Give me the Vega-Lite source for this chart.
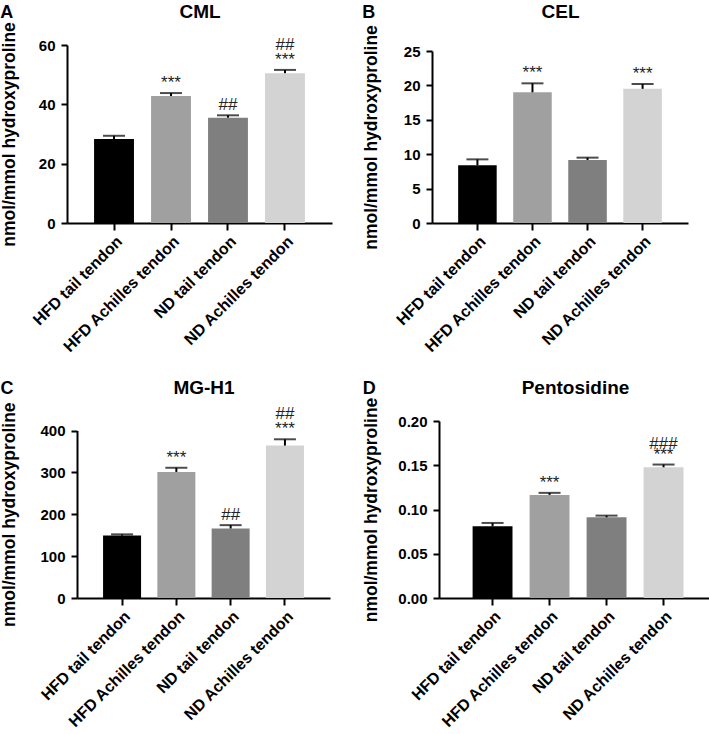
{
  "$schema": "https://vega.github.io/schema/vega-lite/v6.json",
  "padding": {"left": 0, "top": 2, "right": 0, "bottom": 0},
  "datasets": {
    "cml": [
      {"group": "HFD tail tendon", "mean": 28.3, "hi": 29.4, "ann1": "", "ann2": ""},
      {"group": "HFD Achilles tendon", "mean": 42.8, "hi": 43.8, "ann1": "***", "ann2": ""},
      {"group": "ND tail tendon", "mean": 35.5, "hi": 36.3, "ann1": "##", "ann2": ""},
      {"group": "ND Achilles tendon", "mean": 50.5, "hi": 51.6, "ann1": "***", "ann2": "##"}
    ],
    "cel": [
      {"group": "HFD tail tendon", "mean": 8.4, "hi": 9.25, "ann1": "", "ann2": ""},
      {"group": "HFD Achilles tendon", "mean": 19.0, "hi": 20.3, "ann1": "***", "ann2": ""},
      {"group": "ND tail tendon", "mean": 9.15, "hi": 9.5, "ann1": "", "ann2": ""},
      {"group": "ND Achilles tendon", "mean": 19.5, "hi": 20.2, "ann1": "***", "ann2": ""}
    ],
    "mgh1": [
      {"group": "HFD tail tendon", "mean": 149, "hi": 152, "ann1": "", "ann2": ""},
      {"group": "HFD Achilles tendon", "mean": 301, "hi": 311, "ann1": "***", "ann2": ""},
      {"group": "ND tail tendon", "mean": 166, "hi": 174, "ann1": "##", "ann2": ""},
      {"group": "ND Achilles tendon", "mean": 364, "hi": 379, "ann1": "***", "ann2": "##"}
    ],
    "pento": [
      {"group": "HFD tail tendon", "mean": 0.081, "hi": 0.0848, "ann1": "", "ann2": ""},
      {"group": "HFD Achilles tendon", "mean": 0.1165, "hi": 0.1188, "ann1": "***", "ann2": ""},
      {"group": "ND tail tendon", "mean": 0.0912, "hi": 0.0931, "ann1": "", "ann2": ""},
      {"group": "ND Achilles tendon", "mean": 0.1477, "hi": 0.1508, "ann1": "***", "ann2": "###"}
    ]
  },
  "config": {
    "font": "Liberation Sans",
    "view": {"stroke": null},
    "axis": {"grid": false, "labelOverlap": false, "domainColor": "#000000", "domainWidth": 2, "tickColor": "#000000", "tickWidth": 2, "tickSize": 6, "labelColor": "#000000", "labelFontWeight": "bold", "labelFontSize": 15, "titleColor": "#000000", "titleFontWeight": "bold", "titleFontSize": 17.5, "labelPadding": 6},
    "axisX": {"labelAngle": -45, "labelFontSize": 16, "tickSize": 7, "labelPadding": 3},
    "title": {"fontSize": 18, "fontWeight": "bold", "color": "#000000"},
    "text": {"fontSize": 17, "color": "#222222", "baseline": "bottom"}
  },
  "columns": 2,
  "align": "none",
  "spacing": {"row": 23, "column": 30},
  "concat": [
    {
      "width": 265, "height": 178,
      "title": {"text": "A", "anchor": "start", "frame": "bounds", "offset": -20},
      "data": {"name": "cml"},
      "layer": [
        {"mark": {"type": "bar"}, "encoding": {
          "x": {"field": "group", "type": "nominal", "sort": null, "scale": {"paddingInner": 0.3, "paddingOuter": 0.475}, "axis": {"title": null, "orient": "bottom"}},
          "y": {"field": "mean", "type": "quantitative", "title": "nmol/mmol hydroxyproline", "scale": {"domain": [0, 60]}, "axis": {"values": [0, 20, 40, 60], "titlePadding": 20}},
          "color": {"field": "group", "type": "nominal", "sort": null, "scale": {"range": ["#000000", "#a0a0a0", "#7f7f7f", "#d3d3d3"]}, "legend": null}}},
        {"mark": {"type": "rule", "strokeWidth": 2, "color": "#000000"}, "encoding": {
          "x": {"field": "group", "type": "nominal", "sort": null, "axis": null},
          "y": {"field": "mean", "type": "quantitative", "title": "nmol/mmol hydroxyproline", "scale": {"domain": [0, 60]}, "axis": {"values": [0, 20, 40, 60], "titlePadding": 20}},
          "y2": {"field": "hi"}}},
        {"mark": {"type": "tick", "size": 22, "thickness": 2, "color": "#000000"}, "encoding": {
          "x": {"field": "group", "type": "nominal", "sort": null, "axis": null},
          "y": {"field": "hi", "type": "quantitative", "title": "nmol/mmol hydroxyproline", "scale": {"domain": [0, 60]}, "axis": {"values": [0, 20, 40, 60], "titlePadding": 20}}}},
        {"mark": {"type": "text", "dy": -1}, "encoding": {
          "x": {"field": "group", "type": "nominal", "sort": null, "axis": {"orient": "top", "title": "CML", "labels": false, "ticks": false, "domain": false, "titleFontSize": 19, "titlePadding": 24}},
          "y": {"field": "hi", "type": "quantitative", "title": "nmol/mmol hydroxyproline", "scale": {"domain": [0, 60]}, "axis": {"values": [0, 20, 40, 60], "titlePadding": 20}},
          "text": {"field": "ann1"}}},
        {"mark": {"type": "text", "dy": -16}, "encoding": {
          "x": {"field": "group", "type": "nominal", "sort": null, "axis": null},
          "y": {"field": "hi", "type": "quantitative", "title": "nmol/mmol hydroxyproline", "scale": {"domain": [0, 60]}, "axis": {"values": [0, 20, 40, 60], "titlePadding": 20}},
          "text": {"field": "ann2"}}}
      ],
      "resolve": {"axis": {"x": "independent"}}
    },
    {
      "width": 256, "height": 178,
      "title": {"text": "B", "anchor": "start", "frame": "bounds", "offset": -20},
      "data": {"name": "cel"},
      "layer": [
        {"mark": {"type": "bar"}, "encoding": {
          "x": {"field": "group", "type": "nominal", "sort": null, "scale": {"paddingInner": 0.3, "paddingOuter": 0.475}, "axis": {"title": null, "orient": "bottom"}},
          "y": {"field": "mean", "type": "quantitative", "title": "nmol/mmol hydroxyproline", "scale": {"domain": [0, 25], "range": [178, 6]}, "axis": {"values": [0, 5, 10, 15, 20, 25], "titlePadding": 23}},
          "color": {"field": "group", "type": "nominal", "sort": null, "scale": {"range": ["#000000", "#a0a0a0", "#7f7f7f", "#d3d3d3"]}, "legend": null}}},
        {"mark": {"type": "rule", "strokeWidth": 2, "color": "#000000"}, "encoding": {
          "x": {"field": "group", "type": "nominal", "sort": null, "axis": null},
          "y": {"field": "mean", "type": "quantitative", "title": "nmol/mmol hydroxyproline", "scale": {"domain": [0, 25], "range": [178, 6]}, "axis": {"values": [0, 5, 10, 15, 20, 25], "titlePadding": 23}},
          "y2": {"field": "hi"}}},
        {"mark": {"type": "tick", "size": 22, "thickness": 2, "color": "#000000"}, "encoding": {
          "x": {"field": "group", "type": "nominal", "sort": null, "axis": null},
          "y": {"field": "hi", "type": "quantitative", "title": "nmol/mmol hydroxyproline", "scale": {"domain": [0, 25], "range": [178, 6]}, "axis": {"values": [0, 5, 10, 15, 20, 25], "titlePadding": 23}}}},
        {"mark": {"type": "text", "dy": -1}, "encoding": {
          "x": {"field": "group", "type": "nominal", "sort": null, "axis": {"orient": "top", "title": "CEL", "labels": false, "ticks": false, "domain": false, "titleFontSize": 19, "titlePadding": 24}},
          "y": {"field": "hi", "type": "quantitative", "title": "nmol/mmol hydroxyproline", "scale": {"domain": [0, 25], "range": [178, 6]}, "axis": {"values": [0, 5, 10, 15, 20, 25], "titlePadding": 23}},
          "text": {"field": "ann1"}}}
      ],
      "resolve": {"axis": {"x": "independent"}}
    },
    {
      "width": 263, "height": 177,
      "title": {"text": "C", "anchor": "start", "frame": "bounds", "offset": -20},
      "data": {"name": "mgh1"},
      "layer": [
        {"mark": {"type": "bar"}, "encoding": {
          "x": {"field": "group", "type": "nominal", "sort": null, "scale": {"paddingInner": 0.3, "paddingOuter": 0.48, "range": [10, 263]}, "axis": {"title": null, "orient": "bottom"}},
          "y": {"field": "mean", "type": "quantitative", "title": "nmol/mmol hydroxyproline", "scale": {"domain": [0, 400], "range": [177, 9.5]}, "axis": {"values": [0, 100, 200, 300, 400], "titlePadding": 21.5, "offset": -10}},
          "color": {"field": "group", "type": "nominal", "sort": null, "scale": {"range": ["#000000", "#a0a0a0", "#7f7f7f", "#d3d3d3"]}, "legend": null}}},
        {"mark": {"type": "rule", "strokeWidth": 2, "color": "#000000"}, "encoding": {
          "x": {"field": "group", "type": "nominal", "sort": null, "axis": null},
          "y": {"field": "mean", "type": "quantitative", "title": "nmol/mmol hydroxyproline", "scale": {"domain": [0, 400], "range": [177, 9.5]}, "axis": {"values": [0, 100, 200, 300, 400], "titlePadding": 21.5, "offset": -10}},
          "y2": {"field": "hi"}}},
        {"mark": {"type": "tick", "size": 22, "thickness": 2, "color": "#000000"}, "encoding": {
          "x": {"field": "group", "type": "nominal", "sort": null, "axis": null},
          "y": {"field": "hi", "type": "quantitative", "title": "nmol/mmol hydroxyproline", "scale": {"domain": [0, 400], "range": [177, 9.5]}, "axis": {"values": [0, 100, 200, 300, 400], "titlePadding": 21.5, "offset": -10}}}},
        {"mark": {"type": "text", "dy": -1}, "encoding": {
          "x": {"field": "group", "type": "nominal", "sort": null, "axis": {"orient": "top", "title": "MG-H1", "labels": false, "ticks": false, "domain": false, "titleFontSize": 19, "titlePadding": 24}},
          "y": {"field": "hi", "type": "quantitative", "title": "nmol/mmol hydroxyproline", "scale": {"domain": [0, 400], "range": [177, 9.5]}, "axis": {"values": [0, 100, 200, 300, 400], "titlePadding": 21.5, "offset": -10}},
          "text": {"field": "ann1"}}},
        {"mark": {"type": "text", "dy": -16}, "encoding": {
          "x": {"field": "group", "type": "nominal", "sort": null, "axis": null},
          "y": {"field": "hi", "type": "quantitative", "title": "nmol/mmol hydroxyproline", "scale": {"domain": [0, 400], "range": [177, 9.5]}, "axis": {"values": [0, 100, 200, 300, 400], "titlePadding": 21.5, "offset": -10}},
          "text": {"field": "ann2"}}}
      ],
      "resolve": {"axis": {"x": "independent"}}
    },
    {
      "width": 272, "height": 177,
      "title": {"text": "D", "anchor": "start", "frame": "bounds", "offset": -20},
      "data": {"name": "pento"},
      "layer": [
        {"mark": {"type": "bar"}, "encoding": {
          "x": {"field": "group", "type": "nominal", "sort": null, "scale": {"paddingInner": 0.3, "paddingOuter": 0.536, "align": 0.55}, "axis": {"title": null, "orient": "bottom"}},
          "y": {"field": "mean", "type": "quantitative", "title": "nmol/mmol hydroxyproline", "scale": {"domain": [0, 0.2]}, "axis": {"values": [0, 0.05, 0.1, 0.15, 0.2], "format": ".2f", "titlePadding": 17}},
          "color": {"field": "group", "type": "nominal", "sort": null, "scale": {"range": ["#000000", "#a0a0a0", "#7f7f7f", "#d3d3d3"]}, "legend": null}}},
        {"mark": {"type": "rule", "strokeWidth": 2, "color": "#000000"}, "encoding": {
          "x": {"field": "group", "type": "nominal", "sort": null, "axis": null},
          "y": {"field": "mean", "type": "quantitative", "title": "nmol/mmol hydroxyproline", "scale": {"domain": [0, 0.2]}, "axis": {"values": [0, 0.05, 0.1, 0.15, 0.2], "format": ".2f", "titlePadding": 17}},
          "y2": {"field": "hi"}}},
        {"mark": {"type": "tick", "size": 22, "thickness": 2, "color": "#000000"}, "encoding": {
          "x": {"field": "group", "type": "nominal", "sort": null, "axis": null},
          "y": {"field": "hi", "type": "quantitative", "title": "nmol/mmol hydroxyproline", "scale": {"domain": [0, 0.2]}, "axis": {"values": [0, 0.05, 0.1, 0.15, 0.2], "format": ".2f", "titlePadding": 17}}}},
        {"mark": {"type": "text", "dy": -1}, "encoding": {
          "x": {"field": "group", "type": "nominal", "sort": null, "axis": {"orient": "top", "title": "Pentosidine", "labels": false, "ticks": false, "domain": false, "titleFontSize": 19, "titlePadding": 24}},
          "y": {"field": "hi", "type": "quantitative", "title": "nmol/mmol hydroxyproline", "scale": {"domain": [0, 0.2]}, "axis": {"values": [0, 0.05, 0.1, 0.15, 0.2], "format": ".2f", "titlePadding": 17}},
          "text": {"field": "ann1"}}},
        {"mark": {"type": "text", "dy": -11.5}, "encoding": {
          "x": {"field": "group", "type": "nominal", "sort": null, "axis": null},
          "y": {"field": "hi", "type": "quantitative", "title": "nmol/mmol hydroxyproline", "scale": {"domain": [0, 0.2]}, "axis": {"values": [0, 0.05, 0.1, 0.15, 0.2], "format": ".2f", "titlePadding": 17}},
          "text": {"field": "ann2"}}}
      ],
      "resolve": {"axis": {"x": "independent"}}
    }
  ]
}
